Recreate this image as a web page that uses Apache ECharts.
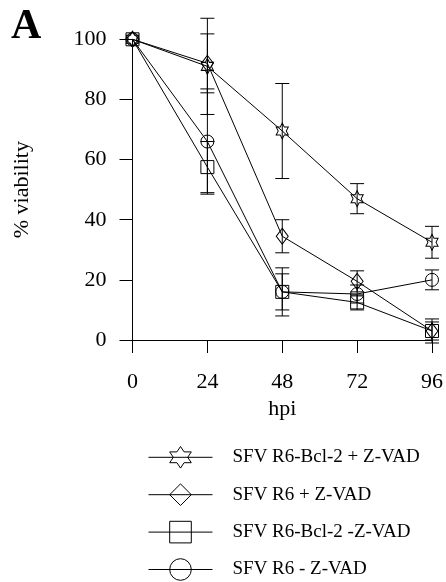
<!DOCTYPE html>
<html>
<head>
<meta charset="utf-8">
<script src="https://cdn.jsdelivr.net/npm/echarts@6/dist/echarts.min.js"></script>
<style>
  html, body { margin: 0; padding: 0; background: #fff; }
  #chart { width: 446px; height: 582px; }
</style>
</head>
<body>
<div id="chart"></div>
<script>
var hpi = [0, 24, 48, 72, 96];
var xTicks = [0, 24, 48, 72, 96];
var seriesNames = ['SFV R6-Bcl-2 + Z-VAD', 'SFV R6 + Z-VAD', 'SFV R6-Bcl-2 -Z-VAD', 'SFV R6 - Z-VAD'];

// viability (%) and error (+/-)
var bclZvad = [100, 91, 69.5, 47, 32.5];
var bclZvadErr = [0, 16, 15.8, 5, 5.3];
var r6Zvad = [100, 92, 34.5, 19.5, 3];
var r6ZvadErr = [0, 9.8, 5.5, 3.5, 3];
var bclNo = [100, 57.5, 16, 12.5, 3];
var bclNoErr = [0, 8.5, 6, 2.5, 4];
var r6No = [100, 66, 16, 15.3, 20];
var r6NoErr = [0, 17.5, 8, 3, 3.3];

var starPath = 'path://M100,0 L128.87,50 L186.6,50 L157.7,100 L186.6,150 L128.87,150 L100,200 L71.13,150 L13.4,150 L42.3,100 L13.4,50 L71.13,50 Z';
var symbols = [starPath, 'diamond', 'rect', 'circle'];
var sizes = [[14, 16], [12, 16], 13, 13];
var values = [bclZvad, r6Zvad, bclNo, r6No];
var errors = [bclZvadErr, r6ZvadErr, bclNoErr, r6NoErr];

var font = 'Liberation Serif, Times New Roman, serif';

var series = [];
for (var i = 0; i < values.length; i++) {
    var pts = [];
    for (var j = 0; j < hpi.length; j++) pts.push([hpi[j], values[i][j]]);
    series.push({
        name: seriesNames[i],
        type: 'line',
        data: pts,
        symbol: symbols[i],
        symbolSize: sizes[i],
        symbolKeepAspect: true,
        lineStyle: {color: '#000', width: 1},
        itemStyle: {color: 'rgba(0,0,0,0)', borderColor: '#000', borderWidth: 1},
        emphasis: {disabled: true},
        z: 3
    });
    var errPts = [];
    for (var k = 0; k < hpi.length; k++) {
        if (errors[i][k] > 0) errPts.push([hpi[k], values[i][k] - errors[i][k], values[i][k] + errors[i][k]]);
    }
    series.push({
        type: 'custom',
        data: errPts,
        z: 4,
        renderItem: function (params, api) {
            var lo = api.coord([api.value(0), api.value(1)]);
            var hi = api.coord([api.value(0), api.value(2)]);
            var w = 7;
            var st = {stroke: '#000', lineWidth: 1, fill: null};
            return {
                type: 'group',
                children: [
                    {type: 'line', shape: {x1: lo[0], y1: lo[1], x2: hi[0], y2: hi[1]}, style: st},
                    {type: 'line', shape: {x1: lo[0] - w, y1: lo[1], x2: lo[0] + w, y2: lo[1]}, style: st},
                    {type: 'line', shape: {x1: hi[0] - w, y1: hi[1], x2: hi[0] + w, y2: hi[1]}, style: st}
                ]
            };
        }
    });
}

var chart = echarts.init(document.getElementById('chart'), null, {renderer: 'canvas'});
chart.setOption({
    backgroundColor: '#fff',
    animation: false,
    grid: {left: 132.5, top: 39.3, width: 300.2, height: 300.7},
    xAxis: {
        type: 'value', min: 0, max: 96, interval: 24,
        name: 'hpi', nameLocation: 'middle', nameGap: 56,
        nameTextStyle: {fontFamily: font, fontSize: 22, color: '#000'},
        axisLine: {lineStyle: {color: '#000', width: 1}},
        axisTick: {inside: false, length: 13, lineStyle: {color: '#000'}},
        axisLabel: {margin: 31, fontFamily: font, fontSize: 22, color: '#000',
            formatter: function (v) { return xTicks.indexOf(v) >= 0 ? String(v) : ''; }},
        splitLine: {show: false}
    },
    yAxis: {
        type: 'value', min: 0, max: 100, interval: 20,
        name: '% viability', nameLocation: 'middle', nameGap: 99, nameRotate: 90,
        nameTextStyle: {fontFamily: font, fontSize: 22, color: '#000'},
        axisLine: {show: true, lineStyle: {color: '#000', width: 1}},
        axisTick: {show: true, inside: false, length: 13, lineStyle: {color: '#000'}},
        axisLabel: {margin: 26, fontFamily: font, fontSize: 22, color: '#000'},
        splitLine: {show: false}
    },
    legend: {
        data: seriesNames,
        orient: 'vertical',
        left: 148, top: 446, padding: 0,
        itemWidth: 64, itemHeight: 27, itemGap: 14.8,
        textStyle: {fontFamily: font, fontSize: 19, color: '#000', padding: [0, 0, 0, 15]},
        itemStyle: {color: 'rgba(255,255,255,0)', borderColor: '#000', borderWidth: 1},
        lineStyle: {color: '#000', width: 1},
        selectedMode: false
    },
    graphic: [
        {type: 'text', left: 11, top: 6,
            style: {text: 'A', fontFamily: font, fontSize: 42, fontWeight: 'bold', fill: '#000'}}
    ],
    series: series
});
</script>
</body>
</html>
